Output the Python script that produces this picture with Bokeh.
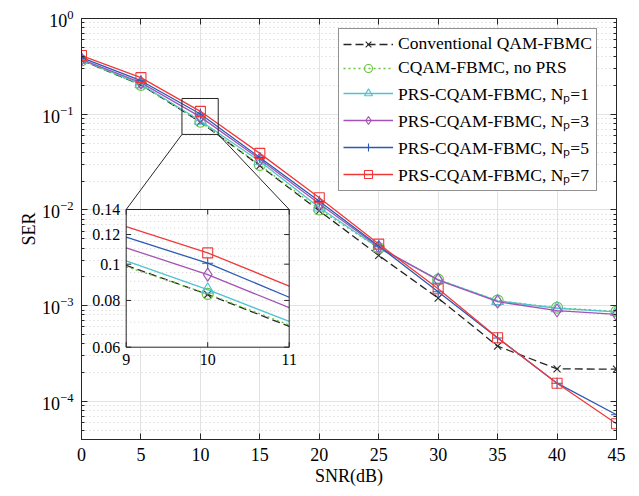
import numpy as np
from bokeh.plotting import figure
from bokeh.models import (FixedTicker, LogTickFormatter, LinearAxis, LogAxis, Range1d,
                          LinearScale, LogScale, Legend, LegendItem, CustomJSTickFormatter)
from bokeh.embed import file_html
from bokeh.resources import INLINE
from bokeh.core.properties import value

# ---------------- data ----------------
snr = [0, 5, 10, 15, 20, 25, 30, 35, 40, 45]
ser_conv = [0.365, 0.203, 0.0830, 0.0290, 0.0098, 0.00335, 0.00120, 0.000378, 0.000219, 0.000217]
ser_nops = [0.365, 0.202, 0.0833, 0.0295, 0.0101, 0.00400, 0.00187, 0.00113, 0.00095, 0.00087]
ser_np1 = [0.370, 0.206, 0.0855, 0.0322, 0.0106, 0.00400, 0.00187, 0.00112, 0.00094, 0.00086]
ser_np3 = [0.375, 0.214, 0.0938, 0.0339, 0.0116, 0.00410, 0.00185, 0.00110, 0.00089, 0.00081]
ser_np5 = [0.390, 0.224, 0.1006, 0.0353, 0.0123, 0.00420, 0.00140, 0.000460, 0.000155, 0.0000726]
ser_np7 = [0.410, 0.241, 0.1072, 0.0390, 0.0134, 0.00440, 0.00150, 0.000462, 0.000155, 0.0000585]

# values read inside the zoomed inset at SNR = 9 and 11 dB
inset_x = [9, 10, 11]
edge_conv = [0.0993, 0.0682]
edge_nops = [0.0985, 0.0688]
edge_np1 = [0.1020, 0.0703]
edge_np3 = [0.1106, 0.0765]
edge_np5 = [0.1181, 0.0816]
edge_np7 = [0.1260, 0.0874]

labels = ["Conventional QAM-FBMC", "CQAM-FBMC, no PRS",
          "PRS-CQAM-FBMC, N\u209A=1", "PRS-CQAM-FBMC, N\u209A=3",
          "PRS-CQAM-FBMC, N\u209A=5", "PRS-CQAM-FBMC, N\u209A=7"]

x_ticks = [0, 5, 10, 15, 20, 25, 30, 35, 40, 45]
y_ticks = [1e-4, 1e-3, 1e-2, 1e-1, 1e0]
inset_x_ticks = [9, 10, 11]
inset_x_labels = ["9", "10", "11"]
inset_y_ticks = [0.06, 0.08, 0.1, 0.12, 0.14]
inset_y_labels = ["0.06", "0.08", "0.1", "0.12", "0.14"]
inset_y_minor = [0.065, 0.07, 0.075, 0.085, 0.09, 0.095, 0.105, 0.11, 0.115, 0.125, 0.13, 0.135]

# ---------------- styles ----------------
colors = ["#262626", "#66c33c", "#4fc3cf", "#a353b5", "#2b59b5", "#f03a3a"]
dashes = ["8 4", "2 3", "solid", "solid", "solid", "solid"]
markers = ["x", "circle", "triangle", "diamond", "cross", "square"]
msizes = [10, 11, 12, 13, 11, 10]
FONT = "Liberation Serif"
AX = "#262626"

FW, FH = 535, 421
XMIN, XMAX = 0, 45
YMIN, YMAX = 4e-5, 1.0

p = figure(width=639, height=496, x_range=Range1d(XMIN, XMAX), y_range=Range1d(YMIN, YMAX),
           y_axis_type="log", output_backend="svg", toolbar_location=None,
           min_border_left=81, min_border_right=23, min_border_top=18, min_border_bottom=57)
p.background_fill_color = "white"
p.border_fill_color = "white"
p.outline_line_color = AX

yticker = FixedTicker(ticks=y_ticks,
                      minor_ticks=[m * 10.0 ** e for e in range(-5, 0) for m in range(2, 10)])
xticker = FixedTicker(ticks=x_ticks, minor_ticks=[])

p.xaxis.ticker = xticker
p.yaxis.ticker = yticker
p.yaxis.formatter = LogTickFormatter()

for ax in [p.xaxis[0], p.yaxis[0]]:
    ax.axis_line_color = AX
    ax.major_tick_line_color = AX
    ax.minor_tick_line_color = AX
    ax.major_tick_in = 6
    ax.major_tick_out = 0
    ax.minor_tick_in = 3
    ax.minor_tick_out = 0
    ax.major_label_text_font = FONT
    ax.major_label_text_font_size = "18px"
    ax.major_label_text_color = "black"
    ax.axis_label_text_font = FONT
    ax.axis_label_text_font_size = "18px"
    ax.axis_label_text_font_style = "normal"
    ax.axis_label_text_color = "black"

p.xaxis.axis_label = "SNR(dB)"
p.yaxis.axis_label = "SER"
p.xaxis.major_label_standoff = 8
p.xaxis.axis_label_standoff = 2
p.yaxis.major_label_standoff = 8
p.yaxis.axis_label_standoff = 0

blank = CustomJSTickFormatter(code="return ''")
top = LinearAxis(ticker=xticker, formatter=blank, major_tick_in=6, major_tick_out=0,
                 minor_tick_out=0, axis_line_color=AX, major_tick_line_color=AX,
                 major_label_standoff=0, major_label_text_font_size="1px")
right = LogAxis(ticker=yticker, formatter=blank, major_tick_in=6, major_tick_out=0,
                minor_tick_in=3, minor_tick_out=0, axis_line_color=AX,
                major_tick_line_color=AX, minor_tick_line_color=AX,
                major_label_standoff=0, major_label_text_font_size="1px")
p.add_layout(top, "above")
p.add_layout(right, "right")

p.xgrid.grid_line_color = "#e2e2e2"
p.ygrid.grid_line_color = "#e2e2e2"
p.ygrid.minor_grid_line_color = "#cfcfcf"
p.ygrid.minor_grid_line_dash = "1 3"

series = [ser_conv, ser_nops, ser_np1, ser_np3, ser_np5, ser_np7]
edges = [edge_conv, edge_nops, edge_np1, edge_np3, edge_np5, edge_np7]

items = []
for s, c, d, m, ms, lab in zip(series, colors, dashes, markers, msizes, labels):
    lr = p.line(snr, s, line_color=c, line_width=1.3, line_dash=d)
    sr = p.scatter(snr, s, marker=m, size=ms, line_color=c, fill_color=None, line_width=1.1)
    items.append(LegendItem(label=lab, renderers=[lr, sr]))

# ---------------- inset geometry (frame pixels) ----------------
IL, IR, IT, IB = 44.7, 207.7, 191.0, 328.7
sx = (inset_x[-1] - inset_x[0]) / (IR - IL)
lt, lb = np.log10(inset_y_ticks[-1]), np.log10(inset_y_ticks[0])
ld = (lt - lb) / (IB - IT)
p.extra_x_ranges = {"in": Range1d(inset_x[0] - IL * sx, inset_x[0] + (FW - IL) * sx)}
p.extra_y_ranges = {"in": Range1d(10 ** (lb - (FH - IB) * ld), 10 ** (lt + IT * ld))}
p.extra_x_scales = {"in": LinearScale()}
p.extra_y_scales = {"in": LogScale()}

def mx(px):
    return XMIN + px / FW * (XMAX - XMIN)

def my(py):
    return 10 ** (np.log10(YMAX) - py / FH * (np.log10(YMAX) - np.log10(YMIN)))

# magnifier box on the main axes and connector lines
bx0, bx1, by0, by1 = 8.45, 11.5, 0.0615, 0.146
p.quad(left=[bx0], right=[bx1], bottom=[by0], top=[by1], fill_color=None,
       line_color="#262626", line_width=1)
p.segment(x0=[bx0, bx1], y0=[by0, by0], x1=[mx(IL), mx(IR)], y1=[my(IT), my(IT)],
          line_color="#262626", line_width=1)

X0, X1 = inset_x[0], inset_x[-1]
Y0, Y1 = inset_y_ticks[0], inset_y_ticks[-1]
kw = dict(x_range_name="in", y_range_name="in")
p.quad(left=[X0], right=[X1], bottom=[Y0], top=[Y1], fill_color="white", line_color=None, **kw)
hl = inset_y_minor + inset_y_ticks[1:-1]
p.segment(x0=[X0] * len(hl), x1=[X1] * len(hl), y0=hl, y1=hl,
          line_color="#cfcfcf", line_dash="1 3", line_width=1, **kw)
p.segment(x0=inset_x_ticks[1:-1], x1=inset_x_ticks[1:-1], y0=[Y0], y1=[Y1],
          line_color="#e2e2e2", line_width=1, **kw)

for s, e, c, d, m, ms in zip(series, edges, colors, dashes, markers, msizes):
    ys = [e[0], s[snr.index(10)], e[1]]
    p.line(inset_x, ys, line_color=c, line_width=1.3, line_dash=d, **kw)
    p.scatter([10], [s[snr.index(10)]], marker=m, size=ms, line_color=c, fill_color=None,
              line_width=1.1, **kw)

p.quad(left=[X0], right=[X1], bottom=[Y0], top=[Y1], fill_color=None, line_color="#262626",
       line_width=1, **kw)
# inset tick marks
tk = 5 * sx
p.segment(x0=[X0] * 5 + [X1] * 5, x1=[X0 + tk] * 5 + [X1 - tk] * 5,
          y0=inset_y_ticks * 2, y1=inset_y_ticks * 2, line_color="#262626", **kw)
p.segment(x0=inset_x_ticks, x1=inset_x_ticks, y0=[Y0] * 3, y1=[10 ** (lb + 5 * ld)] * 3,
          line_color="#262626", **kw)
p.segment(x0=inset_x_ticks, x1=inset_x_ticks, y0=[Y1] * 3, y1=[10 ** (lt - 5 * ld)] * 3,
          line_color="#262626", **kw)
p.text(x=[X0] * 5, y=inset_y_ticks, text=inset_y_labels, x_offset=-6, text_align="right",
       text_baseline="middle", text_font=value(FONT), text_font_size="16px",
       text_color="black", **kw)
p.text(x=inset_x_ticks, y=[Y0] * 3, text=inset_x_labels, y_offset=7, text_align="center",
       text_baseline="top", text_font=value(FONT), text_font_size="16px",
       text_color="black", **kw)

legend = Legend(items=items, location=(257, 248))
legend.label_text_font = FONT
legend.label_text_font_size = "17.5px"
legend.label_text_color = "black"
legend.glyph_width = 50
legend.glyph_height = 20
legend.label_height = 20
legend.label_standoff = 5
legend.spacing = 3
legend.padding = 4
legend.margin = 0
legend.border_line_color = AX
legend.border_line_width = 1
legend.background_fill_color = "white"
legend.background_fill_alpha = 1
p.add_layout(legend)

open("out.html", "w").write(file_html(p, INLINE))
